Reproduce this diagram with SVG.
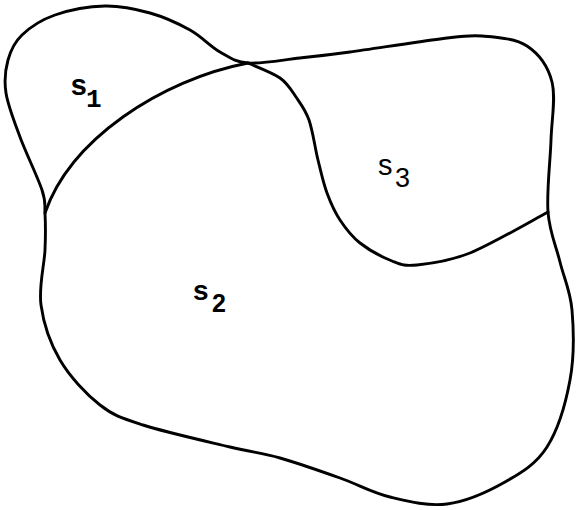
<svg xmlns="http://www.w3.org/2000/svg" width="577" height="510" viewBox="0 0 577 510">
<style>
.ln{fill:none;stroke:#000;stroke-width:2.9;stroke-linejoin:round;stroke-linecap:round}
.m{font-family:"Liberation Mono","DejaVu Sans Mono",monospace;font-weight:bold;fill:#000}
.s{font-family:"Liberation Sans",Arial,sans-serif;fill:#000}
.b{font-weight:bold}
</style>
<rect width="577" height="510" fill="#fff"/>
<g id="connectors">
<path id="outline" class="ln" d="M248,63 C261.3,64 283,59.8 300,58 C317,56.2 326.7,55.2 350,52 C373.3,48.8 418,41.7 440,39 C462,36.3 467.5,34.8 482,36 C496.5,37.2 515.3,38.3 527,46 C538.7,53.7 548,66.3 552,82 C556,97.7 551.7,118.3 551,140 C550.3,161.7 546.5,191.7 548,212 C549.5,232.3 556,245.7 560,262 C564,278.3 570.3,290.3 572,310 C573.7,329.7 574.2,357.2 570,380 C565.8,402.8 557.8,430 547,447 C536.2,464 521.7,472.5 505,482 C488.3,491.5 466.2,501.5 447,504 C427.8,506.5 407.8,501.3 390,497 C372.2,492.7 358.3,484.5 340,478 C321.7,471.5 298.3,463.2 280,458 C261.7,452.8 252.8,452.5 230,447 C207.2,441.5 164.7,432 143,425 C121.3,418 113.8,415.8 100,405 C86.2,394.2 69.8,376.7 60,360 C50.2,343.3 43.5,323.3 41,305 C38.5,286.7 44.3,265.3 45,250 C45.7,234.7 45.5,223 45,213 C44.5,203 46.2,202.7 42,190 C37.8,177.3 26,153.2 20,137 C14,120.8 8,105.8 6,93 C4,80.2 5.3,69.7 8,60 C10.7,50.3 14.2,42.5 22,35 C29.8,27.5 41.2,19.8 55,15 C68.8,10.2 89.2,6.3 105,6 C120.8,5.7 135.8,9 150,13 C164.2,17 178.3,23.5 190,30 C201.7,36.5 210.3,46.5 220,52 C229.7,57.5 234.7,62 248,63 Z"/>
<path id="div12" class="ln" d="M248,63 C160,80 70,140 45,213"/>
<path id="div3" class="ln" d="M248,63 C253.3,65.5 272,72.3 280,78 C288,83.7 291.2,90 296,97 C300.8,104 305.3,109.5 309,120 C312.7,130.5 315,147.8 318,160 C321,172.2 323.3,183 327,193 C330.7,203 334.5,211.7 340,220 C345.5,228.3 351.3,236.2 360,243 C368.7,249.8 382.5,257.3 392,261 C401.5,264.7 404,266.3 417,265 C430,263.7 448.2,261.8 470,253 C491.8,244.2 535,218.8 548,212"/>
</g>
<g id="S1"><text class="m" x="70" y="95" font-size="29">s</text><text class="m" x="86" y="107" font-size="26">1</text></g>
<g id="S2"><text class="s b" x="193" y="300" font-size="28">s</text><text class="s b" x="212" y="312" font-size="25">2</text></g>
<g id="S3"><text class="s" x="378" y="175" font-size="29">s</text><text class="s" x="395" y="187" font-size="27">3</text></g>
</svg>
